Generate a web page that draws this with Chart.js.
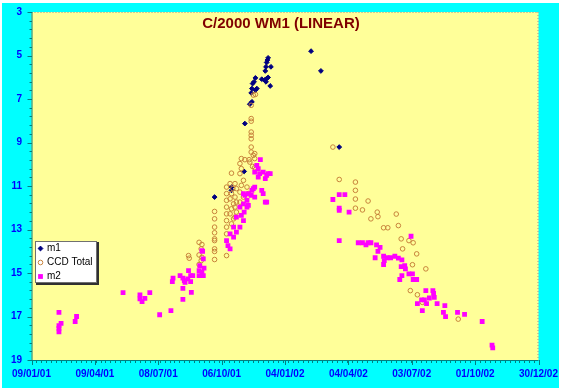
<!DOCTYPE html>
<html>
<head>
<meta charset="utf-8">
<style>
  html, body { margin: 0; padding: 0; background: #fff; }
  #wrap { width: 562px; height: 391px; }
</style>
<script src="https://cdn.jsdelivr.net/npm/chart.js@4.4.0/dist/chart.umd.min.js"></script>
</head>
<body>
<div id="wrap"><canvas id="chart" width="562" height="391"></canvas></div>
<script>
const chartTitle = 'C/2000 WM1 (LINEAR)';

// x values are days counted from 09/01/2001
const xTickDays = [0, 90, 180, 270, 360, 450, 540, 630, 720];
const xTickLabels = ['09/01/01', '09/04/01', '08/07/01', '06/10/01', '04/01/02', '04/04/02', '03/07/02', '01/10/02', '30/12/02'];
const yTickValues = [3, 5, 7, 9, 11, 13, 15, 17, 19];

const m1Points = [
  [260, 11.51], [284, 11.05], [284, 11.20], [302, 10.33], [303, 8.13], [310, 7.24], [313, 7.13],
  [312, 6.72], [313, 6.52], [318, 6.59], [320, 6.52], [314, 6.29], [316, 6.21], [318, 6.03],
  [327, 6.09], [331, 6.13], [334, 6.06], [336, 6.01], [333, 6.21], [339, 6.40], [332, 5.71],
  [333, 5.52], [340, 5.52], [334, 5.32], [335, 5.21], [336, 5.11], [397, 4.80], [411, 5.71], [437, 9.21]
];

const ccdPoints = [
  [223, 14.20], [224, 14.32],
  [238, 13.59], [242, 13.69], [241, 13.89], [238, 14.17], [242, 14.28], [241, 14.43], [238, 14.61],
  [260, 12.17], [260, 12.51], [260, 12.89], [260, 13.15], [260, 13.43], [260, 13.51], [260, 13.89], [260, 14.01], [260, 14.38],
  [277, 11.05], [277, 11.35], [277, 11.66], [277, 11.97], [277, 12.28], [277, 12.59], [277, 12.89], [277, 13.20], [277, 14.20],
  [284, 10.41], [282, 10.89], [286, 11.12], [284, 11.35], [282, 11.59], [287, 11.82], [284, 12.05], [282, 12.28], [287, 12.51], [284, 12.74],
  [289, 10.89], [291, 11.12], [289, 11.51], [291, 11.74], [289, 11.97], [291, 12.20], [289, 12.43],
  [296, 9.97], [298, 10.20], [296, 10.43], [301, 10.74], [298, 10.97], [296, 11.28], [301, 11.51], [296, 11.74],
  [303, 9.79], [310, 9.90], [306, 11.05], [308, 11.35],
  [312, 7.29], [315, 6.82], [318, 6.79], [312, 7.90], [312, 8.02], [312, 8.52], [312, 8.67], [312, 8.83], [312, 9.21],
  [312, 9.44], [315, 9.59], [317, 9.51], [317, 9.74], [309, 9.79], [314, 10.10], [317, 10.16], [298, 9.74],
  [428, 9.21], [437, 10.70], [460, 10.82], [460, 11.20], [460, 11.60], [478, 11.69], [460, 12.02], [470, 12.10],
  [491, 12.20], [492, 12.41], [482, 12.51], [518, 12.29], [521, 12.82], [500, 12.92], [506, 12.92], [525, 13.43],
  [536, 13.51], [542, 13.61], [527, 13.89], [547, 14.12], [541, 14.62], [560, 14.81], [538, 15.81], [548, 16.00],
  [555, 16.35], [606, 17.12]
];

const m2Points = [
  [39, 16.81], [42, 17.32], [39, 17.42], [39, 17.55], [39, 17.70], [64, 17.00], [62, 17.23], [130, 15.90],
  [154, 16.01], [154, 16.19], [157, 16.32], [161, 16.17], [168, 15.90], [182, 16.92], [198, 16.73],
  [201, 15.24], [200, 15.40], [211, 15.12], [215, 15.24], [217, 15.35], [218, 15.43], [222, 15.27],
  [223, 14.89], [226, 15.12], [229, 15.12], [226, 15.40], [215, 15.71], [215, 16.21], [227, 15.89],
  [243, 14.01], [244, 14.35], [239, 14.66], [245, 14.78], [238, 14.89], [242, 14.97], [238, 15.12], [244, 15.12], [242, 13.97],
  [325, 9.79], [320, 10.05], [322, 10.20], [317, 10.36], [324, 10.43], [329, 10.36], [334, 10.51], [339, 10.43],
  [332, 10.66], [322, 10.59], [336, 10.43], [317, 11.05], [313, 11.20], [327, 11.20], [329, 11.35], [312, 11.43],
  [317, 11.51], [332, 11.74], [334, 11.74], [303, 11.43], [301, 11.82], [308, 11.89], [302, 12.20], [296, 11.97],
  [298, 12.35], [291, 12.43], [301, 12.59], [296, 12.89], [287, 12.89], [291, 13.12], [282, 13.20], [287, 13.35],
  [277, 13.51], [279, 13.74], [282, 13.89], [315, 11.12], [308, 11.35], [306, 11.66], [306, 11.97], [301, 11.35],
  [428, 11.62], [437, 11.40], [445, 11.40], [437, 12.02], [437, 12.12], [451, 12.20], [437, 13.51],
  [464, 13.61], [470, 13.61], [475, 13.71], [478, 13.61], [482, 13.61], [490, 13.71], [495, 13.82], [492, 14.01],
  [488, 14.30], [500, 14.23], [501, 14.43], [500, 14.61], [505, 14.30], [510, 14.30], [516, 14.23], [521, 14.32],
  [526, 14.40], [525, 14.71], [530, 14.66], [531, 14.81], [523, 15.30], [526, 15.12], [536, 15.04], [541, 15.04],
  [542, 15.30], [547, 15.30], [539, 13.31], [560, 15.81], [570, 15.81], [571, 15.94], [572, 16.12], [565, 16.15],
  [558, 16.24], [554, 16.24], [548, 16.41], [561, 16.41], [576, 16.41], [555, 16.73], [587, 16.50], [585, 16.81],
  [588, 17.01], [605, 16.81], [615, 16.90], [640, 17.23], [654, 18.32], [655, 18.44]
];

const toXY = pts => pts.map(p => ({ x: p[0], y: p[1] }));

const labelFont = 'bold 10px Arial, "Liberation Sans", sans-serif';
const axisColor = '#008080';
const tickLabelColor = '#0000ff';

const framePlugin = {
  id: 'frame',
  beforeDraw(chart) {
    const { ctx, chartArea: a } = chart;
    ctx.save();
    ctx.fillStyle = '#ffffff';
    ctx.fillRect(0, 0, chart.width, chart.height);
    ctx.fillStyle = '#00ffff';
    ctx.fillRect(2, 3, 557, 385);
    ctx.fillStyle = '#ffff99';
    ctx.fillRect(a.left, a.top, a.right - a.left, a.bottom - a.top);
    ctx.restore();
  },
  afterDraw(chart) {
    const { ctx, chartArea: a } = chart;
    const xs = chart.scales.x, ys = chart.scales.y;
    ctx.save();

    // dotted top and right edges of plot area
    ctx.strokeStyle = '#a09090';
    ctx.lineWidth = 1;
    ctx.setLineDash([1, 2]);
    ctx.beginPath();
    ctx.moveTo(a.left, a.top + 0.5);
    ctx.lineTo(a.right, a.top + 0.5);
    ctx.moveTo(a.right - 0.5, a.top);
    ctx.lineTo(a.right - 0.5, a.bottom);
    ctx.stroke();
    ctx.setLineDash([]);

    // axis lines
    ctx.strokeStyle = axisColor;
    ctx.beginPath();
    ctx.moveTo(a.left + 0.5, a.top);
    ctx.lineTo(a.left + 0.5, a.bottom + 0.5);
    ctx.lineTo(a.right, a.bottom + 0.5);
    ctx.stroke();

    // y ticks (minor every 0.4)
    ctx.beginPath();
    for (let v = 3; v <= 19.001; v += 0.4) {
      const y = Math.round(ys.getPixelForValue(v)) + 0.5;
      ctx.moveTo(a.left - 2, y);
      ctx.lineTo(a.left + 0.5, y);
    }
    yTickValues.forEach(v => {
      const y = Math.round(ys.getPixelForValue(v)) + 0.5;
      ctx.moveTo(a.left - 4, y);
      ctx.lineTo(a.left + 0.5, y);
    });
    // x ticks (minor weekly)
    for (let d = 0; d <= 720; d += 7) {
      const x = Math.round(xs.getPixelForValue(d)) + 0.5;
      ctx.moveTo(x, a.bottom);
      ctx.lineTo(x, a.bottom + 3);
    }
    xTickDays.forEach(d => {
      const x = Math.round(xs.getPixelForValue(d)) + 0.5;
      ctx.moveTo(x, a.bottom);
      ctx.lineTo(x, a.bottom + 5);
    });
    ctx.stroke();

    // tick labels
    ctx.fillStyle = tickLabelColor;
    ctx.font = labelFont;
    ctx.textAlign = 'right';
    ctx.textBaseline = 'middle';
    yTickValues.forEach(v => ctx.fillText(String(v), 22, ys.getPixelForValue(v)));
    ctx.textAlign = 'center';
    xTickDays.forEach((d, i) => ctx.fillText(xTickLabels[i], xs.getPixelForValue(d), 374));

    // title inside plot area
    ctx.fillStyle = '#800000';
    ctx.font = 'bold 15px Arial, "Liberation Sans", sans-serif';
    ctx.fillText(chartTitle, 281, 24);

    // legend box
    const bx = 35, by = 241, bw = 62, bh = 42;
    ctx.fillStyle = '#303030';
    ctx.fillRect(bx + 1, by + 1, bw + 1, bh + 1);
    ctx.fillStyle = '#ffffff';
    ctx.fillRect(bx, by, bw, bh);
    ctx.strokeStyle = '#707070';
    ctx.lineWidth = 1;
    ctx.strokeRect(bx + 0.5, by + 0.5, bw - 1, bh - 1);
    ctx.font = '10px Arial, "Liberation Sans", sans-serif';
    ctx.textAlign = 'left';
    ctx.textBaseline = 'middle';
    const rows = [248.5, 262.5, 276.5];
    chart.data.datasets.forEach((ds, i) => {
      const y = rows[i];
      ctx.fillStyle = ds.backgroundColor;
      ctx.strokeStyle = ds.borderColor;
      ctx.lineWidth = ds.borderWidth;
      Chart.helpers.drawPoint(ctx, {
        pointStyle: ds.pointStyle,
        radius: ds.pointRadius,
        borderWidth: ds.borderWidth
      }, 40.5, y);
      ctx.fillStyle = '#000000';
      ctx.fillText(ds.label, 47, y);
    });
    ctx.restore();
  }
};

new Chart(document.getElementById('chart'), {
  type: 'scatter',
  data: {
    datasets: [
      {
        label: 'm1',
        data: toXY(m1Points),
        pointStyle: 'rectRot',
        pointRadius: 2.4,
        backgroundColor: '#000080',
        borderColor: '#000080',
        borderWidth: 1,
        order: 3
      },
      {
        label: 'CCD Total',
        data: toXY(ccdPoints),
        pointStyle: 'circle',
        pointRadius: 2.3,
        backgroundColor: 'rgba(0,0,0,0)',
        borderColor: '#c8843c',
        borderWidth: 1,
        order: 2
      },
      {
        label: 'm2',
        data: toXY(m2Points),
        pointStyle: 'rect',
        pointRadius: 3.4,
        backgroundColor: '#ff00ff',
        borderColor: '#ff00ff',
        borderWidth: 0,
        order: 1
      }
    ]
  },
  options: {
    responsive: false,
    devicePixelRatio: 1,
    animation: false,
    layout: { padding: { left: 31.5, top: 12, right: 23.5, bottom: 31 } },
    scales: {
      x: { type: 'linear', min: 0, max: 720, display: false },
      y: { type: 'linear', min: 3, max: 19, reverse: true, display: false }
    },
    plugins: {
      legend: { display: false },
      tooltip: { enabled: false }
    }
  },
  plugins: [framePlugin]
});
</script>
</body>
</html>
